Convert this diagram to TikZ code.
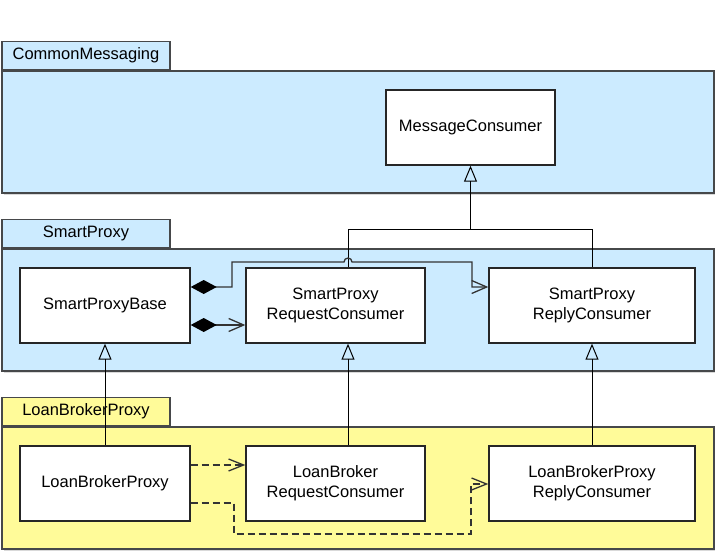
\documentclass[tikz,border=0pt]{standalone}
\usepackage{fontspec}
\setmainfont{Liberation Sans}
\usetikzlibrary{arrows.meta}
\definecolor{pkgblue}{RGB}{204,235,255}
\definecolor{pkgyellow}{RGB}{255,251,153}
\definecolor{pkgline}{RGB}{70,72,74}

\begin{document}
\begin{tikzpicture}[x=1pt,y=-1pt,
  every node/.style={font=\fontsize{16.5}{20}\selectfont, inner sep=0pt},
  pkgbody/.style={draw=pkgline, line width=1.5pt, minimum width=712pt, minimum height=122pt},
  pkgtab/.style={draw=pkgline, line width=1.5pt, minimum width=168pt, minimum height=28pt, anchor=south west},
  classbox/.style={draw=black!85, fill=white, line width=1.4pt, minimum height=75pt, align=center},
  gen/.style={-{Triangle[open, length=16pt, width=13pt]}, line width=1pt},
  comp/.style={{Diamond[length=26pt, width=14pt, color=black, fill=black]}-{Straight Barb[length=15pt, width=13pt]}, line width=1.3pt, draw=black!80},
  dep/.style={-{Straight Barb[length=15pt, width=12pt]}, line width=1.3pt, draw=black!80, dash pattern=on 7pt off 4pt}]
\useasboundingbox (0,0) rectangle (715,551);

\fill[gray!30] (4,73) rectangle (716,195);
\node[pkgbody, fill=pkgblue] (cm) at (358,132) {};
\node[pkgtab, fill=pkgblue] (cmtab) at (cm.north west) {CommonMessaging};

\fill[gray!30] (4,251) rectangle (716,373);
\node[pkgbody, fill=pkgblue] (sp) at (358,310) {};
\node[pkgtab, fill=pkgblue] (sptab) at (sp.north west) {SmartProxy};

\fill[gray!30] (4,429) rectangle (716,551);
\node[pkgbody, fill=pkgyellow] (lb) at (358,488) {};
\node[pkgtab, fill=pkgyellow] (lbtab) at (lb.north west) {LoanBrokerProxy};

\node[classbox, minimum width=169pt] (msgcons) at (470.5,127.5) {MessageConsumer};

\node[classbox, minimum width=170pt] (spbase) at (105,305.5) {SmartProxyBase};
\node[classbox, minimum width=179pt] (spreq) at (335.5,305.5) {SmartProxy\\RequestConsumer};
\node[classbox, minimum width=206pt] (sprep) at (592,305.5) {SmartProxy\\ReplyConsumer};

\node[classbox, minimum width=170pt] (lbp) at (105,483.5) {LoanBrokerProxy};
\node[classbox, minimum width=179pt] (lbreq) at (335.5,483.5) {LoanBroker\\RequestConsumer};
\node[classbox, minimum width=206pt] (lbrep) at (592,483.5) {LoanBrokerProxy\\ReplyConsumer};

\coordinate (bus) at (470.5,229);
\draw[gen] (bus) -- (msgcons.south);
\draw[line width=1pt] (bus) -| (spreq.north -| 348,0);
\draw[line width=1pt] (bus) -| (sprep.north);

\draw[comp] (spbase.east |- 0,287) -| (232,262) -- (344,262)
  arc[start angle=180, end angle=360, radius=4] -- (472,262) |- (sprep.west |- 0,287);
\draw[comp] (spbase.east |- 0,325) -- (spreq.west |- 0,325);

\draw[gen] (lbp.north) -- (spbase.south);
\draw[gen] (lbreq.north -| 348,0) -- (spreq.south -| 348,0);
\draw[gen] (lbrep.north) -- (sprep.south);

\draw[dep] (lbp.east |- 0,465) -- (lbreq.west |- 0,465);
\draw[dep] (lbp.east |- 0,503) -| (234,534) -| (471,484) -- (lbrep.west |- 0,484);
\end{tikzpicture}
\end{document}
